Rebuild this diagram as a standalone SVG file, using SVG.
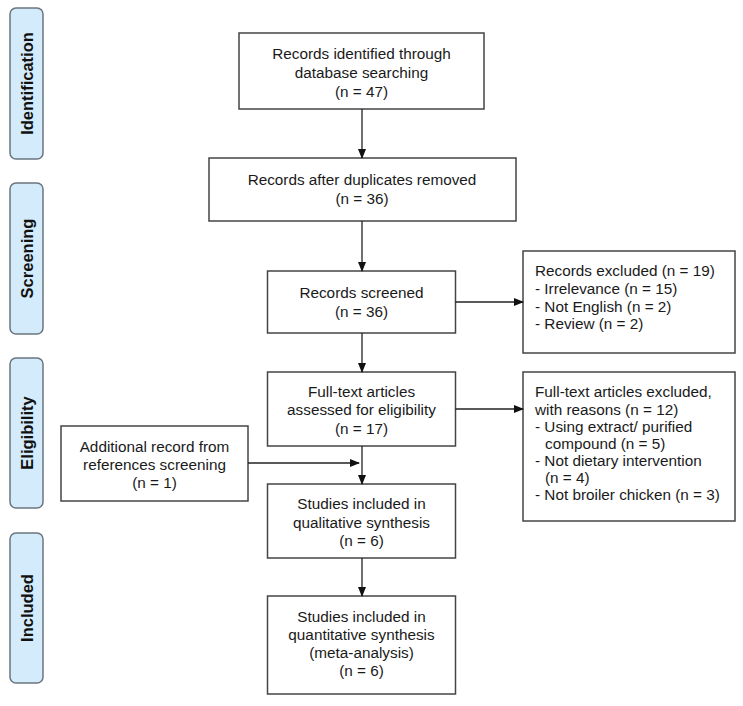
<svg xmlns="http://www.w3.org/2000/svg" width="743" height="706" viewBox="0 0 743 706">
<style>
.stage{fill:#d3ebfb;stroke:#6b7580;stroke-width:1.5}
.stl{font-family:"Liberation Sans",Arial,sans-serif;font-size:16.5px;font-weight:bold;fill:#111;text-anchor:middle}
.box{fill:#fff;stroke:#444;stroke-width:1.5}
.t{font-family:"Liberation Sans",Arial,sans-serif;font-size:15.3px;fill:#1a1a1a}
.c{text-anchor:middle}
.ln{stroke:#222;stroke-width:1.3;fill:none}
</style>
<defs>
<marker id="ah" markerWidth="10" markerHeight="8" refX="9" refY="4" orient="auto" markerUnits="userSpaceOnUse">
<path d="M0,0 L10,4 L0,8 z" fill="#111"/>
</marker>
</defs>
<rect width="743" height="706" fill="#fff"/>

<g id="stage-identification">
<rect class="stage" x="10" y="8" width="33" height="151" rx="6"/>
<text class="stl" transform="translate(32.5,83.5) rotate(-90)">Identification</text>
</g>
<g id="stage-screening">
<rect class="stage" x="10" y="183" width="33" height="151" rx="6"/>
<text class="stl" transform="translate(32.5,258.5) rotate(-90)">Screening</text>
</g>
<g id="stage-eligibility">
<rect class="stage" x="10" y="358" width="33" height="150" rx="6"/>
<text class="stl" transform="translate(32.5,433) rotate(-90)">Eligibility</text>
</g>
<g id="stage-included">
<rect class="stage" x="10" y="533" width="33" height="150" rx="6"/>
<text class="stl" transform="translate(32.5,608) rotate(-90)">Included</text>
</g>

<g id="identified">
<rect class="box" x="239" y="33" width="245" height="76"/>
<text class="t c" x="361.5" y="58.5">Records identified through</text>
<text class="t c" x="361.5" y="77.5">database searching</text>
<text class="t c" x="361.5" y="96.5">(n = 47)</text>
</g>
<g id="deduplicated">
<rect class="box" x="209" y="158" width="307" height="63"/>
<text class="t c" x="362" y="184.5">Records after duplicates removed</text>
<text class="t c" x="362" y="203.5">(n = 36)</text>
</g>
<g id="screened">
<rect class="box" x="267.5" y="271" width="188" height="62"/>
<text class="t c" x="361.5" y="297.5">Records screened</text>
<text class="t c" x="361.5" y="316.5">(n = 36)</text>
</g>
<g id="excluded-records">
<rect class="box" x="523" y="251" width="212" height="102"/>
<text class="t" x="535" y="275.5">Records excluded (n = 19)</text>
<text class="t" x="535" y="293.5">- Irrelevance (n = 15)</text>
<text class="t" x="535" y="311.5">- Not English (n = 2)</text>
<text class="t" x="535" y="328.5">- Review (n = 2)</text>
</g>
<g id="fulltext">
<rect class="box" x="267.5" y="372" width="188" height="74"/>
<text class="t c" x="361.5" y="396.5">Full-text articles</text>
<text class="t c" x="361.5" y="415">assessed for eligibility</text>
<text class="t c" x="361.5" y="433.5">(n = 17)</text>
</g>
<g id="excluded-fulltext">
<rect class="box" x="523" y="372" width="212" height="149"/>
<text class="t" x="535" y="397">Full-text articles excluded,</text>
<text class="t" x="535" y="414.5">with reasons (n = 12)</text>
<text class="t" x="535" y="431.5">- Using extract/ purified</text>
<text class="t" x="545" y="448.5">compound (n = 5)</text>
<text class="t" x="535" y="465.5">- Not dietary intervention</text>
<text class="t" x="545" y="482.5">(n = 4)</text>
<text class="t" x="535" y="500">- Not broiler chicken (n = 3)</text>
</g>
<g id="additional">
<rect class="box" x="61" y="426" width="187" height="75"/>
<text class="t c" x="154.5" y="452">Additional record from</text>
<text class="t c" x="154.5" y="470">references screening</text>
<text class="t c" x="154.5" y="488">(n = 1)</text>
</g>
<g id="qualitative">
<rect class="box" x="267.5" y="484" width="188" height="74"/>
<text class="t c" x="361.5" y="509">Studies included in</text>
<text class="t c" x="361.5" y="527.5">qualitative synthesis</text>
<text class="t c" x="361.5" y="546">(n = 6)</text>
</g>
<g id="quantitative">
<rect class="box" x="267.5" y="596" width="188" height="98"/>
<text class="t c" x="361.5" y="622">Studies included in</text>
<text class="t c" x="361.5" y="640">quantitative synthesis</text>
<text class="t c" x="361.5" y="658">(meta-analysis)</text>
<text class="t c" x="361.5" y="676">(n = 6)</text>
</g>

<g id="connectors">
<line class="ln" x1="362" y1="109" x2="362" y2="158" marker-end="url(#ah)"/>
<line class="ln" x1="362" y1="221" x2="362" y2="271" marker-end="url(#ah)"/>
<line class="ln" x1="362" y1="333" x2="362" y2="372" marker-end="url(#ah)"/>
<line class="ln" x1="362" y1="446" x2="362" y2="484" marker-end="url(#ah)"/>
<line class="ln" x1="362" y1="558" x2="362" y2="596" marker-end="url(#ah)"/>
<line class="ln" x1="455.5" y1="302" x2="523" y2="302" marker-end="url(#ah)"/>
<line class="ln" x1="455.5" y1="409" x2="523" y2="409" marker-end="url(#ah)"/>
<line class="ln" x1="248" y1="463" x2="359" y2="463" marker-end="url(#ah)"/>
</g>
</svg>
